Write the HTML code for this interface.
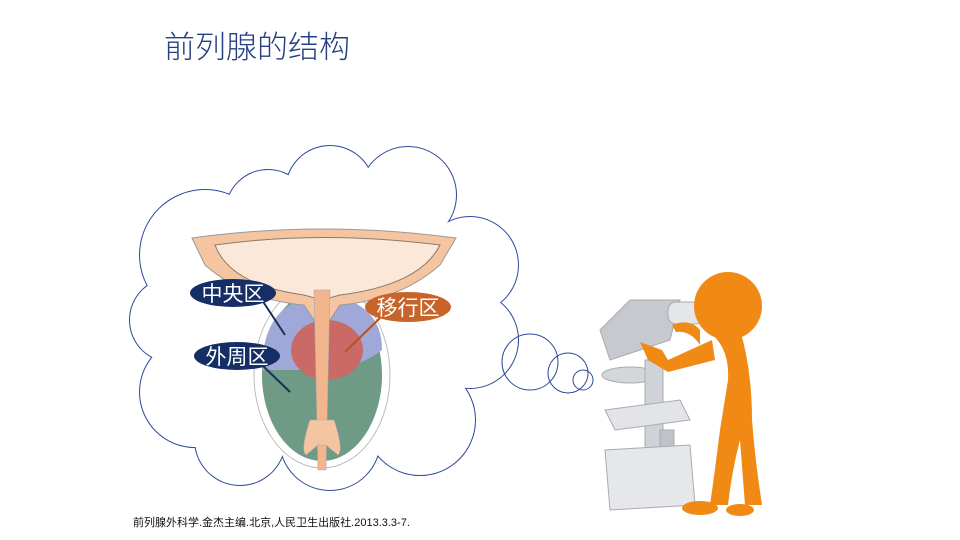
<!DOCTYPE html>
<html><head><meta charset="utf-8"><style>
body{margin:0;width:960px;height:540px;background:#fff;overflow:hidden;position:relative;font-family:"Liberation Sans","Noto Sans CJK SC",sans-serif}
.t{position:absolute;left:164px;top:22px;font-size:31px;color:#253f80;font-weight:300;letter-spacing:0px}
.c{position:absolute;left:133px;top:514px;font-size:11px;color:#111}
svg{position:absolute;left:0;top:0}
</style></head><body>
<svg width="960" height="540">
<g fill="#fff" stroke="#2c4a9a" stroke-width="2">
<circle cx="330" cy="190" r="44"/><circle cx="408" cy="195" r="48"/><circle cx="268" cy="212" r="42"/>
<circle cx="205" cy="255" r="65"/><circle cx="172" cy="320" r="42"/><circle cx="195" cy="392" r="55"/>
<circle cx="240" cy="440" r="45"/><circle cx="330" cy="440" r="50"/><circle cx="420" cy="420" r="55"/>
<circle cx="470" cy="265" r="48"/><circle cx="470" cy="340" r="48"/>
</g>
<g fill="#fff">
<circle cx="330" cy="190" r="44"/><circle cx="408" cy="195" r="48"/><circle cx="268" cy="212" r="42"/>
<circle cx="205" cy="255" r="65"/><circle cx="172" cy="320" r="42"/><circle cx="195" cy="392" r="55"/>
<circle cx="240" cy="440" r="45"/><circle cx="330" cy="440" r="50"/><circle cx="420" cy="420" r="55"/>
<circle cx="470" cy="265" r="48"/><circle cx="470" cy="340" r="48"/>
<ellipse cx="322" cy="318" rx="150" ry="130"/>
</g>
<g fill="none" stroke="#2c4a9a" stroke-width="1">
<circle cx="530" cy="362" r="28"/><circle cx="568" cy="373" r="20"/><circle cx="583" cy="380" r="10"/>
</g>
<!-- prostate -->
<ellipse cx="322" cy="375" rx="68" ry="93" fill="#fff" stroke="#bbb"/>
<ellipse cx="322" cy="375" rx="60" ry="86" fill="#6f9a85"/>
<path d="M262 370 Q262 300 322 295 Q382 300 382 350 Q360 368 322 370 Z" fill="#9fa8d6"/>
<ellipse cx="327" cy="350" rx="36" ry="30" fill="#c96a66"/>
<path d="M192 238 Q322 220 456 238 L440 265 Q400 300 340 305 L330 320 L314 320 L304 305 Q245 300 205 265 Z" fill="#f4c5a0" stroke="#999"/>
<path d="M215 245 Q322 230 440 245 Q420 285 340 295 L322 300 L304 295 Q230 285 215 245 Z" fill="#fbe8d8" stroke="#8a7a70"/>
<path d="M314 290 L318 470 L326 470 L330 290 Z" fill="#f3b58c" stroke="#aaa" stroke-width=".6"/>
<path d="M310 420 Q300 450 306 455 L318 445 L326 445 L338 455 Q344 450 334 420 Z" fill="#f4c5a0" stroke="#aaa" stroke-width=".6"/>
<!-- labels -->
<line x1="262" y1="300" x2="285" y2="335" stroke="#1a2e5a" stroke-width="2"/>
<line x1="262" y1="365" x2="290" y2="392" stroke="#1a2e5a" stroke-width="2"/>
<line x1="380" y1="318" x2="345" y2="352" stroke="#b3541e" stroke-width="2"/>
<ellipse cx="233" cy="293" rx="43" ry="14" fill="#162e66"/>
<ellipse cx="237" cy="356" rx="43" ry="14" fill="#162e66"/>
<ellipse cx="408" cy="307" rx="43" ry="15" fill="#c8642a"/>
<g fill="#fff" font-size="21" font-family="Noto Sans CJK SC,sans-serif" text-anchor="middle">
<text x="233" y="301">中央区</text><text x="237" y="364">外周区</text><text x="408" y="315">移行区</text>
</g>
<!-- microscope -->
<g fill="#d4d6da" stroke="#a8abb0">
<path d="M600 330 L630 300 L680 300 L670 340 L610 360 Z" fill="#c6c9ce"/>
<rect x="668" y="302" width="35" height="22" rx="8" fill="#e4e6ea"/>
<ellipse cx="630" cy="375" rx="28" ry="8"/>
<rect x="645" y="360" width="18" height="130" fill="#cfd2d6"/>
<path d="M605 410 L680 400 L690 420 L615 430 Z" fill="#e2e4e8"/>
<rect x="660" y="430" width="14" height="50" fill="#bfc2c7"/>
<path d="M605 450 L690 445 L695 505 L610 510 Z" fill="#e6e7ea"/>
</g>
<!-- figure -->
<g fill="#f08a14">
<circle cx="728" cy="306" r="34"/>
<path d="M706 330 Q730 345 728 380 L720 430 Q715 470 710 505 L728 505 Q732 470 740 440 L745 505 L762 505 Q755 460 752 420 Q752 370 740 330 Z"/>
<path d="M712 340 L668 360 L662 350 L640 342 L648 360 L668 372 L715 360 Z"/>
<path d="M700 330 Q690 318 672 325 L676 332 Q690 330 700 345 Z"/>
<ellipse cx="700" cy="508" rx="18" ry="7"/><ellipse cx="740" cy="510" rx="14" ry="6"/>
</g>
</svg>
<div class="t">前列腺的结构</div>
<div class="c">前列腺外科学.金杰主编.北京,人民卫生出版社.2013.3.3-7.</div>
</body></html>
